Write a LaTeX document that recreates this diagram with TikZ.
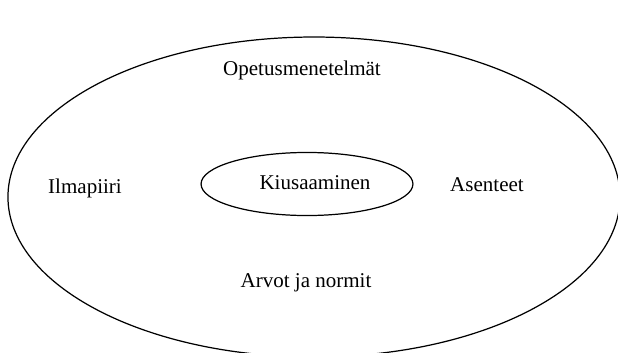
\documentclass[tikz,border=0pt]{standalone}
\usepackage{fontspec}
\setmainfont{Liberation Serif}
\usepackage{tikz}
\usetikzlibrary{positioning,shapes.geometric}
\tikzset{
  soikio/.style = {draw, ellipse, line width=0.7pt, inner sep=0pt},
  teksti/.style = {font=\fontsize{12}{14}\selectfont, inner sep=0pt}
}
\begin{document}
\begin{tikzpicture}[x=0.571pt, y=-0.571pt]
    \useasboundingbox (0,0) rectangle (618,353);
    \clip (0,0) rectangle (618,353);
    \node[soikio, minimum width=349.5pt, minimum height=182.7pt] (ulko) at (314,197) {};
    \node[soikio, minimum width=121pt, minimum height=36pt] (sisa) at (307,184) {};
    \node[teksti] (kiusa) at (315,183) {Kiusaaminen};
    \node[teksti] (opetus) at (302,70) {Opetusmenetelmät};
    \node[teksti] (ilma) at (85,188) {Ilmapiiri};
    \node[teksti] (asen) at (487,185) {Asenteet};
    \node[teksti] (arvot) at (306,283) {Arvot ja normit};
\end{tikzpicture}
\end{document}
